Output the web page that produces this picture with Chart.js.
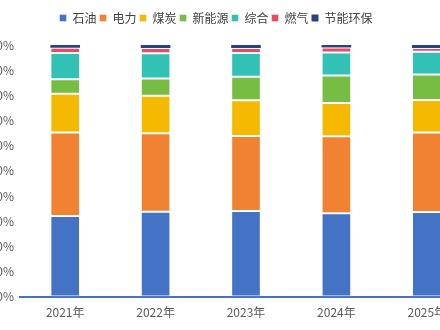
<!DOCTYPE html>
<html>
<head>
<meta charset="utf-8">
<script src="https://cdn.jsdelivr.net/npm/chart.js@4"></script>
<style>
  html, body { margin: 0; padding: 0; width: 440px; height: 330px; overflow: hidden; background: #fff; }
  #wrap { position: absolute; left: -40px; top: 0; width: 520px; height: 330px; }
</style>
</head>
<body>
<div id="wrap"><canvas id="chart" width="520" height="330"></canvas></div>
<script>
const years = ["2021年", "2022年", "2023年", "2024年", "2025年"];

const shiyou   = [32.0, 33.7, 34.0, 33.1, 33.6];
const dianli   = [33.2, 31.2, 29.8, 30.6, 31.6];
const meitan   = [15.4, 14.9, 14.2, 13.2, 12.9];
const xinnengy = [5.8, 6.9, 9.4, 11.0, 10.2];
const zonghe   = [10.4, 10.0, 9.4, 9.1, 9.0];
const ranqi    = [2.1, 2.1, 2.0, 2.0, 1.5];
const jieneng  = [1.1, 1.2, 1.2, 1.0, 1.2];

const seriesNames = ["石油", "电力", "煤炭", "新能源", "综合", "燃气", "节能环保"];
const seriesColors = ["#4472C4", "#F08232", "#F4B900", "#77BC43", "#31C2B5", "#EB4A60", "#2B4280"];
const seriesData = [shiyou, dianli, meitan, xinnengy, zonghe, ranqi, jieneng];

const font = "'Noto Sans CJK SC', 'Noto Sans', sans-serif";

const datasets = seriesNames.map((name, i) => ({
  label: name,
  data: seriesData[i],
  backgroundColor: seriesColors[i],
  borderColor: "rgba(255,255,255,0.4)",
  // the thin top segment would vanish under a border
  borderWidth: i === seriesNames.length - 1 ? 0 : 1,
  borderSkipped: false,
  barPercentage: 0.41,
  categoryPercentage: 0.8
}));

// extra gap under the legend
const legendGap = {
  id: "legendGap",
  beforeInit(chart) {
    const fit = chart.legend.fit;
    chart.legend.fit = function () {
      fit.call(this);
      this.height += 11;
    };
  }
};

new Chart(document.getElementById("chart"), {
  type: "bar",
  data: { labels: years, datasets },
  plugins: [legendGap],
  options: {
    responsive: false,
    devicePixelRatio: 1,
    animation: false,
    layout: { padding: { left: 0, right: 8, top: 9, bottom: 1 } },
    plugins: {
      legend: {
        position: "top",
        labels: {
          boxWidth: 7,
          boxHeight: 7,
          padding: 3,
          color: "#404040",
          font: { family: font, size: 12 }
        }
      },
      tooltip: { enabled: false }
    },
    scales: {
      x: {
        stacked: true,
        grid: { display: false, drawTicks: false },
        border: { display: true, color: "#4472C4", width: 2 },
        ticks: { color: "#595959", padding: 9, font: { family: font, size: 12 } }
      },
      y: {
        stacked: true,
        min: 0,
        max: 100,
        afterFit: s => { s.width = 60; },
        grid: { display: false, drawTicks: false },
        border: { display: false },
        ticks: {
          stepSize: 10,
          padding: 6,
          color: "#595959",
          font: { family: font, size: 12 },
          callback: v => v + "%"
        }
      }
    }
  }
});
</script>
</body>
</html>
